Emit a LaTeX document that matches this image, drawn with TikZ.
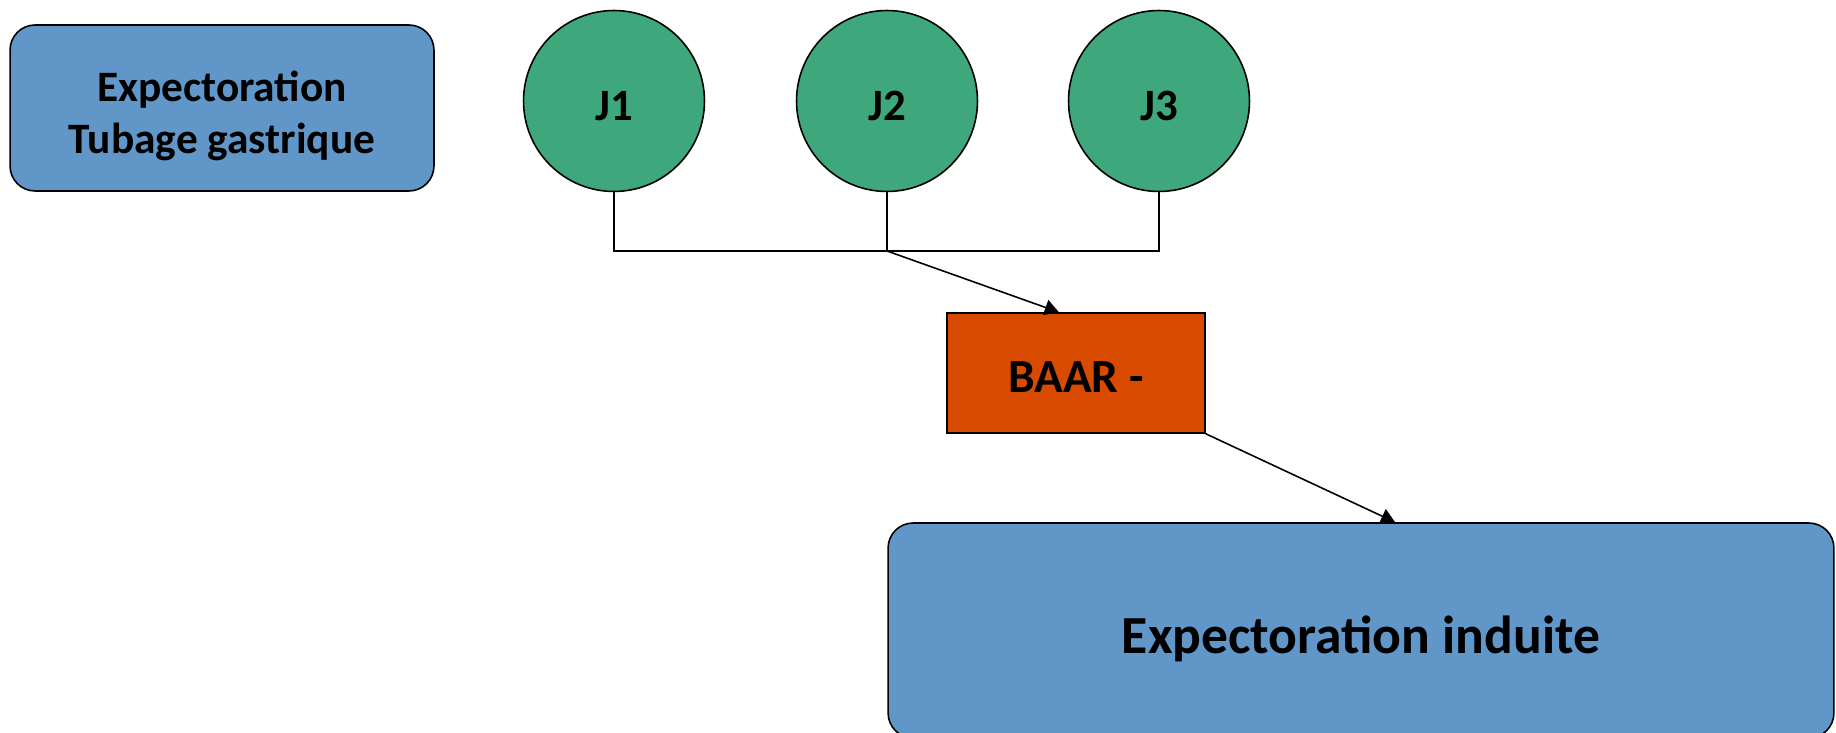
\documentclass[tikz,border=0pt]{standalone}
\usepackage{fontspec}
\setmainfont{Carlito}
\usetikzlibrary{arrows.meta,calc}

\definecolor{boxblue}{HTML}{6096C8}
\definecolor{daygreen}{HTML}{3EA77B}
\definecolor{baarred}{HTML}{D84A00}

\begin{document}
\begin{tikzpicture} [
	   x=0.02cm, y=-0.02cm,
	   sample/.style  = { rectangle, rounded corners=0.5cm, fill=boxblue, draw=black, line width=0.9pt, align=center },
	   day/.style     = { circle, fill=daygreen, draw=black, line width=0.9pt, minimum size=3.62cm, inner sep=0pt,
	                      text height=22pt, text depth=0pt, font=\fontsize{25.5}{30}\selectfont\bfseries },
	   result/.style  = { rectangle, fill=baarred, draw=black, line width=0.9pt, minimum width=5.16cm, minimum height=2.4cm,
	                      text height=22pt, text depth=0pt, font=\fontsize{27}{32}\selectfont\bfseries },
	   line/.style    = { draw, line width=0.9pt },
	   arrow/.style   = { line, -{Triangle[length=8pt,width=9pt]} },
	 ]
	  \useasboundingbox (0,0) rectangle (1836,733);

	  % samples
	  \node [sample, minimum width=8.48cm, minimum height=3.32cm, text height=56pt,
	         font=\fontsize{24.7}{29.5}\selectfont\bfseries]
	        (gastric) at (222,108) {Expectoration\\Tubage gastrique};

	  % three days
	  \node [day] (day1) at (614,101) {J1};
	  \node [day] (day2) at (887,101) {J2};
	  \node [day] (day3) at (1159,101) {J3};

	  \node [result] (baar) at (1076,373) {BAAR -};

	  \node [sample, minimum width=18.92cm, minimum height=4.3cm, text height=26pt, text depth=0pt,
	         font=\fontsize{30.5}{36}\selectfont\bfseries]
	        (induced) at (1361,630.5) {Expectoration induite};

	  % connect all nodes defined above
	  \coordinate (hub) at (887,251);
	  \path [line] (day1.south) |- (hub) -| (day3.south);
	  \path [line] (day2.south) -- (hub);
	  \path [arrow] (hub) -- ($(baar.north west)!0.434!(baar.north east)$);
	  \path [arrow] (baar.south east) -- ($(induced.north west)!0.536!(induced.north east)$);
	\end{tikzpicture}
\end{document}
